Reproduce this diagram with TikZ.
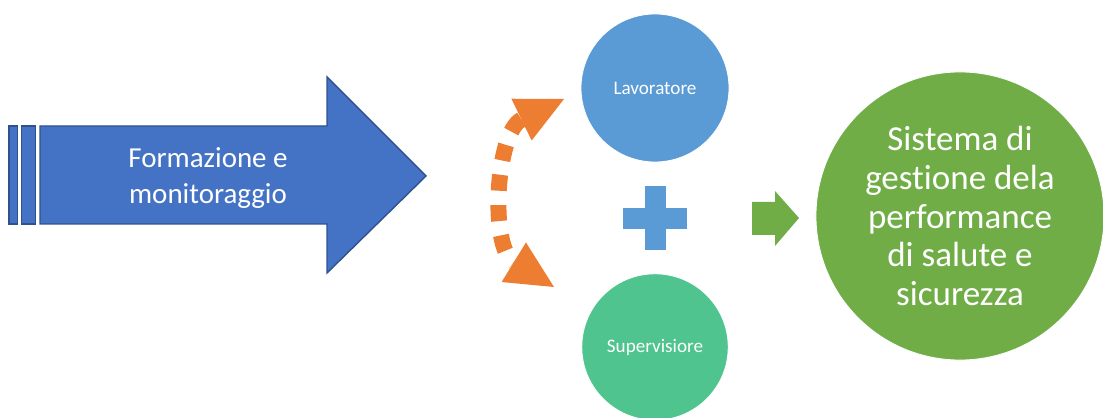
\documentclass[tikz,border=0pt]{standalone}
\usepackage{fontspec}
\setmainfont{Carlito}[Ligatures=NoCommon]
\usetikzlibrary{arrows.meta}
\definecolor{arrowblue}{HTML}{4472C4}
\definecolor{arrowedge}{HTML}{2F528F}
\definecolor{skyblue}{HTML}{5B9BD5}
\definecolor{mintgreen}{HTML}{4FC48E}
\definecolor{leafgreen}{HTML}{70AD47}
\definecolor{swaporange}{HTML}{ED7D31}
\begin{document}
\begin{tikzpicture}[x=0.025cm, y=-0.025cm,
  bigarrow/.style={fill=arrowblue, draw=arrowedge, line width=1pt, line join=miter},
  disc/.style={circle, draw=white, line width=0.6pt, inner sep=0pt, text=white, align=center},
  swap/.style={draw=swaporange, line width=0.4cm, dash pattern=on 0.4cm off 0.36cm,
    {Triangle[length=1.18cm, width=1.16cm, line width=0pt]}-{Triangle[length=1.18cm, width=1.16cm, line width=0pt]}}]
  \useasboundingbox (0,0) rectangle (1103,418);
  % striped arrow
  \draw[bigarrow] (9,126) rectangle (17.7,224);
  \draw[bigarrow] (21.7,126) rectangle (35.7,224);
  \draw[bigarrow] (40,126) -- (327,126) -- (327,77) -- (426,176) -- (327,273) -- (327,224) -- (40,224) -- cycle;
  \node[text=white, align=center, inner sep=0pt, font=\fontsize{20.6pt}{25.6pt}\selectfont] (train) at (208,178)
      {Formazione e\\monitoraggio};
  % roles
  \node[disc, fill=skyblue, minimum size=3.7cm, font=\fontsize{13.6pt}{16pt}\selectfont] (worker) at (655,88) {Lavoratore};
  \node[disc, fill=mintgreen, minimum size=3.66cm, font=\fontsize{13.6pt}{16pt}\selectfont] (super) at (655,347) {Supervisiore};
  % two-way exchange
  \coordinate (swapS) at (554,287);
  \coordinate (swapN) at (564,99);
  \draw[swap] (swapN) .. controls (496,132) and (489,247) .. (swapS);
  % plus
  \fill[skyblue] (645,186) rectangle (666,250);
  \fill[skyblue] (623,208) rectangle (687,229);
  % result
  \fill[leafgreen] (752,202) -- (775,202) -- (775,191) -- (799,218) -- (775,246) -- (775,235) -- (752,235) -- cycle;
  \node[disc, fill=leafgreen, minimum size=7.2cm, font=\fontsize{24.9pt}{27.7pt}\selectfont] (perf) at (960,216)
      {Sistema di\\gestione dela\\performance\\di salute e\\sicurezza};
\end{tikzpicture}
\end{document}
